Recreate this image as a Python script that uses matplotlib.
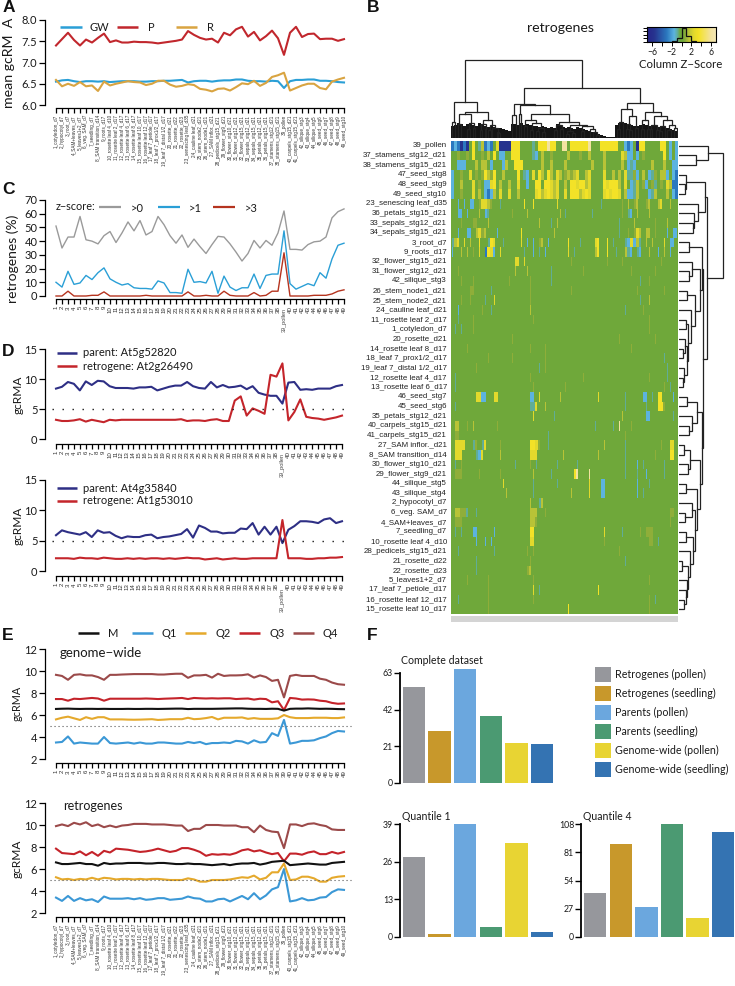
import numpy as np
import matplotlib
matplotlib.use("Agg")
import matplotlib.pyplot as plt
from matplotlib.colors import LinearSegmentedColormap
from matplotlib.patches import Rectangle

# ---------------- data ----------------
tissues = ["1_cotyledon_d7","2_hypocotyl_d7","3_root_d7","4_SAM+leaves_d7","5_leaves1+2_d7","6_veg. SAM_d7","7_seedling_d7",
"8_SAM transition_d14","9_roots_d17","10_rosette leaf 4_d10","11_rosette leaf 2_d17","12_rosette leaf 4_d17","13_rosette leaf 6_d17",
"14_rosette leaf 8_d17","15_rosette leaf 10_d17","16_rosette leaf 12_d17","17_leaf 7_petiole_d17","18_leaf 7_prox1/2_d17",
"19_leaf 7_distal 1/2_d17","20_rosette_d21","21_rosette_d22","22_rosette_d23","23_senescing leaf_d35","24_cauline leaf_d21",
"25_stem_node2_d21","26_stem_node1_d21","27_SAM inflor._d21","28_pedicels_stg15_d21","29_flower_stg9_d21","30_flower_stg10_d21",
"31_flower_stg12_d21","32_flower_stg15_d21","33_sepals_stg12_d21","34_sepals_stg15_d21","35_petals_stg12_d21","36_petals_stg15_d21",
"37_stamens_stg12_d21","38_stamens_stg15_d21","39_pollen","40_carpels_stg15_d21","41_carpels_stg15_d21","42_silique_stg3",
"43_silique_stg4","44_silique_stg5","45_seed_stg6","46_seed_stg7","47_seed_stg8","48_seed_stg9","49_seed_stg10"]

a_gw = [6.55,6.58,6.59,6.56,6.54,6.56,6.56,6.55,6.56,6.54,6.55,6.56,6.56,6.56,6.55,6.55,6.56,6.56,6.57,6.57,6.58,6.59,6.53,6.56,6.57,6.57,6.55,6.57,6.58,6.58,6.60,6.60,6.57,6.56,6.56,6.55,6.57,6.56,6.40,6.56,6.59,6.59,6.60,6.60,6.57,6.57,6.56,6.54,6.53]
a_p = [7.40,7.55,7.70,7.53,7.40,7.54,7.47,7.58,7.68,7.48,7.52,7.47,7.47,7.49,7.48,7.48,7.47,7.45,7.47,7.49,7.51,7.54,7.74,7.65,7.58,7.54,7.56,7.47,7.70,7.64,7.78,7.84,7.61,7.72,7.52,7.62,7.75,7.57,7.18,7.70,7.84,7.60,7.67,7.68,7.55,7.56,7.56,7.51,7.55]
a_r = [6.59,6.44,6.50,6.45,6.54,6.44,6.46,6.33,6.55,6.46,6.50,6.53,6.56,6.54,6.53,6.47,6.50,6.57,6.57,6.48,6.43,6.45,6.49,6.47,6.38,6.36,6.32,6.38,6.39,6.34,6.42,6.51,6.49,6.57,6.45,6.52,6.66,6.70,6.76,6.34,6.40,6.46,6.50,6.50,6.40,6.37,6.55,6.60,6.64]

c_gt0 = [51,35,43,43,58,41,40,38,44,47,39,46,54,47.5,55,44.5,47,58,52,44,38.5,44.5,35.5,41.5,36,31,37.5,43.5,43,38,32,25.5,31,40.5,35,40.5,37,46,62,34,34,33.5,37.5,39.5,40,43,57,61.5,63.5]
c_gt1 = [10,6.5,18,8.5,9.5,15,12,17,20.5,12.5,10,8,9,6,5.5,5.5,5,11,9.5,2.5,2.5,2,19.5,10,10.5,9.5,18,2,14.5,6.5,4,6,6,16,5.5,15,16,16,47.5,9,5,7,9,7.5,17,13,27,37,38.5]
c_gt3 = [0,0,3.5,0,0,0,0.5,0.5,3,0,0,0,0,0,0,0.5,0,0,0,0,0,0,3,0,0,0.5,0,0,3.5,0.5,0,0,0,2.5,0,0.5,3.5,3.5,31.5,0,0,0,0,0.5,0.5,0.5,1.5,3.5,4.5]

d1_parent = [8.4,8.7,9.5,9.2,8.1,9.6,9.0,9.7,9.6,8.8,8.5,8.5,8.5,8.4,8.6,8.6,8.7,8.1,8.4,8.7,8.9,8.9,9.5,8.8,8.5,8.4,9.5,8.6,9.0,8.6,8.7,8.9,8.3,8.8,7.7,7.4,7.2,7.2,5.9,9.4,9.5,8.2,8.3,8.2,8.4,8.4,8.4,8.8,9.0]
d1_retro = [3.2,3.0,3.0,3.1,3.3,2.9,3.2,3.0,2.8,3.2,3.1,3.2,3.2,3.2,3.2,3.2,3.2,3.2,3.2,3.2,3.2,3.3,3.0,3.1,3.1,3.0,3.2,3.3,3.0,3.0,6.4,7.1,3.9,5.1,4.7,4.2,10.7,10.4,12.6,3.1,4.5,6.6,3.7,3.5,3.4,3.2,3.4,3.6,3.9]
d2_parent = [5.9,6.7,6.4,6.2,6.0,6.4,5.6,6.7,6.3,6.4,5.8,5.4,5.7,5.6,5.6,5.9,6.0,5.4,5.6,5.7,5.9,6.1,6.9,5.5,7.5,7.1,6.5,6.5,6.2,6.3,6.3,7.0,6.9,7.9,6.0,7.3,6.0,7.3,4.6,6.8,7.4,8.2,8.2,8.1,7.9,8.5,8.7,7.9,8.2]
d2_retro = [2.1,2.1,2.1,2.0,2.2,2.1,2.1,2.0,2.2,2.1,2.0,2.0,2.1,2.0,2.1,2.0,2.1,2.1,2.0,2.1,2.0,2.1,2.2,2.1,2.1,1.9,2.0,2.1,1.9,2.0,2.1,2.0,2.0,2.1,2.1,2.1,2.1,2.1,8.4,2.1,2.1,2.1,2.0,2.0,2.1,2.1,2.2,2.2,2.3]

e1_m = [6.55,6.57,6.58,6.56,6.55,6.56,6.56,6.55,6.56,6.55,6.55,6.55,6.56,6.55,6.55,6.56,6.56,6.55,6.56,6.57,6.58,6.58,6.54,6.56,6.56,6.56,6.56,6.57,6.58,6.59,6.60,6.60,6.57,6.56,6.56,6.55,6.57,6.56,6.40,6.56,6.58,6.58,6.60,6.58,6.56,6.57,6.56,6.54,6.53]
e1_q1 = [3.5,3.55,4.05,3.4,3.5,3.45,3.4,3.4,4.0,3.45,3.4,3.45,3.5,3.4,3.5,3.4,3.4,3.5,3.5,3.45,3.4,3.4,3.55,3.45,3.55,3.35,3.45,3.45,3.5,3.45,3.65,3.6,3.4,3.7,3.5,3.55,4.35,4.1,5.55,3.4,3.5,3.65,3.65,3.7,3.9,4.05,4.35,4.55,4.5]
e1_q2 = [5.6,5.75,5.85,5.7,5.55,5.8,5.65,5.8,5.8,5.6,5.6,5.6,5.58,5.57,5.58,5.6,5.62,5.55,5.58,5.62,5.62,5.62,5.75,5.62,5.65,5.72,5.82,5.6,5.75,5.75,5.75,5.78,5.65,5.72,5.65,5.65,5.65,5.7,6.0,5.8,5.72,5.72,5.72,5.75,5.75,5.75,5.72,5.72,5.78]
e1_q3 = [7.45,7.45,7.3,7.48,7.45,7.5,7.55,7.5,7.3,7.48,7.48,7.48,7.48,7.48,7.48,7.5,7.48,7.45,7.48,7.5,7.52,7.55,7.45,7.55,7.52,7.5,7.52,7.5,7.52,7.52,7.45,7.48,7.5,7.4,7.48,7.45,7.15,7.25,6.45,7.55,7.5,7.4,7.42,7.4,7.3,7.25,7.1,7.02,7.05]
e1_q4 = [9.65,9.55,9.2,9.65,9.7,9.6,9.6,9.45,9.2,9.65,9.65,9.68,9.7,9.72,9.72,9.72,9.72,9.68,9.68,9.72,9.75,9.75,9.38,9.6,9.6,9.65,9.4,9.75,9.55,9.6,9.6,9.62,9.7,9.4,9.6,9.45,9.1,9.2,7.6,9.55,9.65,9.55,9.55,9.55,9.3,9.2,8.95,8.8,8.75]

e2_m = [6.6,6.45,6.45,6.5,6.55,6.45,6.45,6.3,6.55,6.45,6.5,6.5,6.55,6.55,6.55,6.5,6.5,6.55,6.55,6.5,6.45,6.45,6.5,6.45,6.45,6.4,6.35,6.4,6.45,6.35,6.45,6.5,6.5,6.55,6.4,6.5,6.65,6.7,6.75,6.35,6.4,6.45,6.5,6.45,6.4,6.4,6.55,6.6,6.65]
e2_q1 = [3.4,3.1,3.55,3.1,3.35,3.15,3.25,3.0,3.5,3.3,3.3,3.3,3.35,3.25,3.35,3.2,3.25,3.35,3.35,3.2,3.25,3.3,3.5,3.35,3.3,3.05,3.05,3.25,3.3,3.05,3.3,3.55,3.25,3.8,3.25,3.6,4.15,4.35,6.0,3.05,3.15,3.35,3.15,3.2,3.4,3.45,3.9,4.15,4.1]
e2_q2 = [5.25,5.05,5.1,5.0,5.1,5.05,5.2,5.05,5.2,5.15,5.05,5.1,5.1,5.05,5.1,5.05,5.1,5.1,5.05,5.0,5.0,5.0,5.15,5.05,4.85,4.85,5.0,5.0,5.0,5.05,5.15,5.25,5.2,5.4,5.05,5.2,5.7,5.7,6.5,5.0,5.05,5.3,5.3,5.15,4.85,4.85,5.2,5.3,5.35]
e2_q3 = [7.85,7.45,7.4,7.35,7.6,7.25,7.55,7.2,7.65,7.5,7.85,7.8,7.75,7.65,7.55,7.6,7.7,7.85,7.7,7.55,7.65,7.9,7.9,7.75,7.55,7.2,7.35,7.3,7.35,7.3,7.45,7.7,7.8,7.6,7.7,7.5,7.35,7.45,6.7,7.4,7.4,7.3,7.5,7.6,7.35,7.35,7.55,7.4,7.55]
e2_q4 = [9.9,10.05,9.9,10.2,10.05,10.25,9.9,10.05,9.8,9.95,9.8,9.95,10.0,10.1,10.1,10.1,10.05,10.05,10.05,10.0,9.95,9.95,9.45,9.65,9.65,10.0,10.0,10.0,9.95,9.95,9.95,9.8,9.8,9.35,9.95,9.55,9.4,9.35,7.9,10.05,10.05,9.9,10.1,10.15,10.0,9.9,9.6,9.55,9.55]

bar_labels = ["Retrogenes (pollen)","Retrogenes (seedling)","Parents (pollen)","Parents (seedling)","Genome-wide (pollen)","Genome-wide (seedling)"]
bars_all = [54.8,29.8,65.3,38.4,22.7,22.1]
bars_q1 = [27.5,1.1,39,3.6,32.6,1.7]
bars_q4 = [41.6,89,28.3,108,18.1,100.4]

# heatmap: row order (tissue number) and z-score classes per 3 px column group
row_order = [39,37,38,47,48,49,23,36,33,34,3,9,32,31,42,26,25,24,11,1,20,14,18,19,12,13,46,45,35,40,41,27,8,30,29,44,43,2,6,4,7,10,28,21,22,5,17,16,15]
z_class = {"g":0,"o":.8,"l":1.5,"y":2.5,"Y":3.5,"p":6,"t":-.8,"c":-1.5,"b":-3,"d":-5.5}
heat_rows = [
"bcbdbdgYgt lbcbgydddd YYYggggtgY YYpYYggppg YYYYYYpggg YYYYYYggcb cgdYYggggg YYgcgc",
"ggoggogYgg oglgYgccgg YYYggggtcg lggogggggl gggoggl ggg glgggggy lc cgcgoggggg gYgcgc",
"ggcccggglgl lgcgggclgg YYYgggggg lgglgggglg ggggggglgg glgggggl gc tcgggggl gg glggcc",
"cggoggygog oYloYgglgg ggYgtcgygY lgYlgylgol olyggly ggg gygglglgyt tocglgctog llcgcb",
"cgglgggygo gccyYglggl ggyggcggYY gYYylyggl g YYyYYlyggg gYyYYYlgyg ctlgocgotg ogylbb",
"cggogggygl gcbclgyggy gglgggggyY lyYylyggyg YYYlyYyggg gyYyYYyglc ctlgggctlg gglgcb",
{2:"c",4:"c",6:"c",7:"c",9:"o",10:"y",11:"y",12:"l",13:"o",16:"t",24:"Y",27:"Y",35:"y",50:"t",57:"o",59:"l",61:"o",62:"l",65:"o",66:"l",69:"l",70:"y",73:"l"},
{2:"c",3:"c",5:"c",9:"l",11:"c",12:"t",20:"o",25:"l",36:"l",38:"t",47:"t",57:"o",59:"t",60:"c",62:"l",66:"l"},
{3:"o",7:"o",8:"o",12:"l",29:"l",33:"t",35:"l",56:"t",61:"l",68:"o",72:"l"},
{2:"c",5:"c",6:"c",8:"l",9:"y",10:"o",11:"l",15:"c",23:"Y",34:"l",56:"t",59:"o",61:"o",62:"y",63:"l",65:"l",66:"l",68:"o",72:"c",74:"c",75:"c"},
{0:"t",1:"l",2:"y",4:"y",6:"l",9:"Y",12:"t",13:"Y",14:"y",17:"t",23:"y",25:"c",27:"c",29:"o",30:"l",32:"c",39:"Y",43:"t",48:"y",49:"Y",52:"Y",54:"t",58:"t",59:"c",60:"y",61:"c",62:"l",63:"t",65:"l",67:"l",71:"y",73:"c",74:"c"},
{0:"c",3:"l",5:"l",7:"o",9:"y",11:"b",12:"Y",13:"y",14:"c",16:"y",24:"t",27:"c",29:"t",31:"c",39:"y",41:"t",48:"l",49:"Y",52:"Y",55:"t",58:"l",59:"t",60:"c",62:"t",63:"c",66:"l",69:"c",71:"l",73:"c"},
{21:"y",22:"y",24:"y",40:"o",52:"o",57:"o",70:"o"},
{2:"o",21:"l",25:"l",33:"t",44:"o",60:"o",68:"o"},
{3:"o",7:"o",19:"o",26:"o",33:"t",63:"t",66:"o"},
{6:"o",7:"o",13:"t",26:"o",40:"o",62:"o",71:"o"},
{3:"o",6:"o",11:"t",14:"y",26:"o",63:"t",66:"l"},
{2:"c",10:"o",13:"t",26:"l",58:"t",64:"o"},
{2:"t",7:"o",27:"o",66:"o"},
{1:"t",3:"t",7:"o",66:"o"},
{20:"o",56:"o",68:"o"},
{26:"o",31:"o",60:"o",5:"o"},
{20:"o",31:"o",71:"t",12:"o"},
{29:"t",31:"o",72:"t",8:"o"},
{1:"t",26:"o",66:"o",72:"t",44:"o"},
{1:"t",27:"o",71:"o",73:"t",38:"o"},
{8:"y",9:"y",10:"c",11:"c",14:"y",15:"y",26:"c",27:"c",29:"y",36:"l",49:"y",58:"t",64:"c",65:"c",67:"t",69:"Y",70:"Y",74:"c"},
{1:"t",26:"t",27:"t",28:"y",31:"l",58:"t",65:"t",69:"Y",70:"Y",71:"o"},
{27:"y",34:"t",57:"l",65:"c",66:"c",74:"t"},
{1:"l",2:"l",5:"o",7:"l",15:"o",48:"t",54:"t",56:"p",60:"o"},
{1:"o",2:"o",32:"t",58:"o"},
{1:"y",2:"y",3:"y",4:"y",7:"t",8:"o",10:"t",11:"y",16:"o",26:"Y",27:"Y",28:"y",29:"o",32:"t",51:"l",58:"t",70:"o",73:"y",74:"y"},
{1:"y",2:"y",3:"y",8:"t",9:"c",10:"y",16:"l",26:"y",27:"y",28:"y",37:"l",49:"l",58:"t",68:"o",73:"Y",74:"Y"},
{1:"t",3:"o",21:"t",26:"o",28:"t",35:"t",42:"t",58:"t",62:"c",64:"t",71:"t"},
{1:"o",2:"o",3:"o",9:"o",16:"o",27:"l",33:"t",41:"Y",42:"p",46:"p",58:"t",62:"t",65:"c",71:"t"},
{17:"y",27:"t",35:"t",46:"y",50:"c",51:"c",62:"c",66:"t"},
{18:"l",27:"t",40:"l",46:"y",50:"c",51:"c",62:"c",64:"t"},
{26:"l",29:"t",30:"l"},
{1:"l",2:"l",3:"o",4:"o",5:"t",8:"t",26:"l",27:"l",28:"l",31:"o",73:"o",74:"o"},
{1:"o",2:"o",3:"o",26:"l",27:"l",28:"o",73:"o"},
{1:"t",3:"t",7:"c",8:"c",14:"c",26:"Y",27:"Y",51:"y",57:"t",63:"o",65:"o",66:"o",67:"o"},
{8:"c",11:"c",13:"c",26:"y",27:"y",51:"o",66:"o",67:"o",69:"t"},
{2:"t",14:"t",25:"o",27:"o",56:"o"},
{8:"t",26:"o",58:"t"},
{8:"t",25:"o",26:"l"},
{5:"o",12:"o",27:"o",66:"o"},
{12:"o",27:"y",29:"t",49:"Y"},
{2:"t",12:"o",27:"o",66:"o",68:"t"},
{12:"o",39:"Y",66:"o"},
]
n_col_groups = 76

# dendrograms as (height, left, right); an integer in the row tree is a row index
row_tree = (160,
  (115,0,(78,1,2)),
  (110,
    (105,(47,3,(45,4,5)),(85,6,(72,7,(68,8,9)))),
    (98,
      (97,(58,10,11),(90,(67,12,(58,13,14)),(75,(52,15,16),(63,17,(55,(47,18,19),(50,(45,20,(38,21,22)),(42,23,(40,24,25)))))))),
      (95,
        (80,(52,26,27),(65,28,(57,29,30))),
        (90,(60,(42,31,32),(55,33,34)),
          (80,(47,35,36),
            (75,(65,37,(45,38,39)),
              (68,(47,40,41),(60,42,(55,(37,43,44),(50,45,(47,46,(42,47,48)))))))))))))
col_tree = (78,
  (36,(16,0.3,1.4),
      (26,(24,(14,2.2,3.4),(15,(9,5.4,6.4),(10,7.2,8.2))),
          (18,(14,(8,9.8,10.4),(9,11,11.8)),(13,(8,12.3,13),(10,13.6,(6,15,(5,15.6,16.5)))))))
  ,
  (50,
    (34,(23,20.3,21.8),
        (33,(24,22.8,23.5),
            (24,(18,(12,24.5,25.3),(15,(8,26,27),(10,(7,28,29),(6,30,31)))),
                (16,(13,(8,34,35),(9,36,37)),
                    (13,(7,(4,38,39),(5,40,41)),(12,(7,43,44),(9,46,(6,47,(3,48,49.5)))))))))
    ,
    (35,(29,(16,(9,55.7,56.5),(8,57,57.5)),(22,(14,(9,58,59),(8,59.6,60)),(10,61,62))),
        (26,(18,(9,63.5,64.5),(9,65,66)),
            (22,(13,(9,66.6,67.4),(8,68,69)),(18,(12,(7,69.5,70.5),(8,71,71.8)),(13,(8,72.2,73),(10,74,75.5))))))))
col_band = [12,13,15,14,12,14,15,13,12,15,14,12,11,12,11,10,10,9,8,7,14,14,13,15,13,14,13,12,12,11,12,11,10,11,10,14,13,11,10,11,10,9,11,10,9,8,7,6,5,4,3,2,1,1,1,13,15,16,15,14,13,12,12,13,14,13,12,13,12,11,12,11,10,9,8,7]
key_hist = [0,0,0,0,.02,.05,.25,1,.45,.1,.03,0,0,0]

# ---------------- style ----------------
W, H = 735, 986
UI = "Lato"
AR = "Liberation Sans"
plt.rcParams["font.family"] = UI
fig = plt.figure(figsize=(W/100, H/100), dpi=100)

def pax(l, r, t, b):
    return fig.add_axes([l/W, 1-b/H, (r-l)/W, (b-t)/H])

ov = fig.add_axes([0,0,1,1], zorder=20)
ov.set_xlim(0,W); ov.set_ylim(H,0); ov.axis("off"); ov.patch.set_alpha(0)

def txt(x, y, s, size=8, ha="left", va="center", fam=UI, rot=0, color="#1a1a1a", weight="normal"):
    ov.text(x, y, s, fontsize=size, ha=ha, va=va, family=fam, rotation=rot, color=color, fontweight=weight)

def key(x0, x1, y, color, lw=1.6):
    ov.plot([x0,x1],[y,y],color=color,lw=lw,solid_capstyle="butt")

xs = np.arange(1,50)

def line_panel(l, r, t, b, ylim, yticks, yfmt, series, lw, labels="short", ysize=8, tick_off=3, left_off=11):
    ax = pax(l,r,t,b)
    ax.set_xlim(1,49); ax.set_ylim(*ylim)
    for y,c in series:
        ax.plot(xs,y,color=c,lw=lw,solid_joinstyle="round",clip_on=False)
    for s in ("top","right"): ax.spines[s].set_visible(False)
    ax.spines["left"].set_position(("outward",left_off*.72))
    ax.spines["left"].set_bounds(*ylim)
    ax.spines["left"].set_linewidth(.9)
    ax.spines["bottom"].set_position(("outward",tick_off*.72))
    ax.spines["bottom"].set_bounds(1,49)
    ax.spines["bottom"].set_linewidth(.9)
    ax.set_yticks(yticks)
    ax.set_yticklabels([yfmt % v for v in yticks],fontsize=ysize,color="#1a1a1a")
    ax.tick_params(axis="y",length=4,width=.9,pad=1.5)
    ax.set_xticks(xs)
    if labels=="long":
        ax.set_xticklabels(tissues,rotation=90,fontsize=3.35,family=AR,color="#333333",va="top",ha="center")
    else:
        names = [str(i) for i in xs]
        if labels=="pollen": names[38]=""
        ax.set_xticklabels(names,rotation=90,fontsize=4.4,family=AR,color="#333333",va="top",ha="center")
    ax.tick_params(axis="x",length=3.6,width=.9,pad=1.5)
    return ax

# ---- panel A
line_panel(56,344,20,105,(6,8),[6,6.5,7,7.5,8],"%.1f",[(a_gw,"#2a9fd6"),(a_p,"#c1272d"),(a_r,"#d9a441")],1.5,"long")
txt(9,63,"mean gcRM  A",10.2,ha="center",rot=90)
key(60,82,27,"#2a9fd6",1.8); txt(90,27.5,"GW",8)
key(117,138,27,"#c1272d",1.8); txt(148,27.5,"P",8)
key(176,197,27,"#d9a441",1.8); txt(207,27.5,"R",8)

# ---- panel C
line_panel(56,344,200,296,(0,70),list(range(0,71,10)),"%d",[(c_gt0,"#9a9a9a"),(c_gt1,"#2a9fd6"),(c_gt3,"#b5341f")],1.0,"pollen")
txt(13,259,"retrogenes (%)",10,ha="center",rot=90)
txt(56,207,"z\u2212score:",7.8)
key(99,121,207,"#9a9a9a"); txt(131,208,">0",8)
key(158,180,207,"#2a9fd6"); txt(189,208,">1",8)
key(213,235,207,"#b5341f"); txt(245,208,">3",8)
txt(284.5,320,"39_pollen",4,ha="center",fam=AR,rot=90,color="#444444")

# ---- panel D
def dotted_h(ax, y):
    ax.plot([0.4,50.2],[y,y],color="#1a1a1a",lw=1.0,ls=(0,(1,6.2)),clip_on=False)
ax = line_panel(56,342,349,439,(0,15),[0,5,10,15],"%d",[(d1_parent,"#2e2f85"),(d1_retro,"#c4252b")],1.5,"pollen",tick_off=5)
dotted_h(ax,5)
ax = line_panel(56,342,480,571,(0,15),[0,5,10,15],"%d",[(d2_parent,"#2e2f85"),(d2_retro,"#c4252b")],1.5,"pollen",tick_off=5)
dotted_h(ax,5)
txt(18,395,"gcRMA",8.6,ha="center",rot=90)
txt(18,526,"gcRMA",8.6,ha="center",rot=90)
key(57,77,352.5,"#2e2f85",1.8); txt(83,353,"parent: At5g52820",8)
key(57,77,366,"#c4252b",1.8); txt(83,366,"retrogene: At2g26490",8)
key(57,77,488,"#2e2f85",1.8); txt(83,488,"parent: At4g35840",8)
key(57,77,501,"#c4252b",1.8); txt(83,501,"retrogene: At1g53010",8)
txt(282,465,"39_pollen",4,ha="center",fam=AR,rot=90,color="#444444")
txt(282,600,"39_pollen",4,ha="center",fam=AR,rot=90,color="#444444")

# ---- panel E
E_COL = ["#111111","#3b98d6","#e5a92c","#c4232a","#9b4a4a"]
def dotted_e(ax):
    ax.plot([0,50.2],[5,5],color="#555555",lw=.8,ls=(0,(1,2.6)),clip_on=False)
ax = line_panel(56,344,649,759,(2,12),[2,4,6,8,10,12],"%d",[(v,c) for v,c in zip([e1_q1,e1_q2,e1_q3,e1_q4,e1_m],E_COL[1:]+E_COL[:1])],1.5,"short",tick_off=4)
dotted_e(ax)
ax = line_panel(56,344,803,913,(2,12),[2,4,6,8,10,12],"%d",[(v,c) for v,c in zip([e2_q1,e2_q2,e2_q3,e2_q4,e2_m],E_COL[1:]+E_COL[:1])],1.5,"long",tick_off=4)
dotted_e(ax)
txt(17,703,"gcRMA",7.8,ha="center",rot=90)
txt(17,859,"gcRMA",8.6,ha="center",rot=90)
for name,col,x0,tx in zip(["M","Q1","Q2","Q3","Q4"],E_COL,[78,132,185,239,293],[108,162,216,270,323]):
    key(x0,x0+21,633,col,1.8); txt(tx,633.5,name,8)
txt(60,653,"genome\u2212wide",9.5)
txt(63,806,"retrogenes",9)

# ---- panel B
SUB = 3
z_rows = []
for row in heat_rows:
    cells = np.zeros(n_col_groups*SUB)
    if isinstance(row,str):
        chars = row.replace(" ","").ljust(n_col_groups,"g")[:n_col_groups]
        cells = np.repeat([z_class[ch] for ch in chars],SUB)
    else:
        # sparse rows: narrow stripes, joined where neighbouring groups are also marked
        for i,ch in row.items():
            v = z_class[ch]
            cells[i*SUB+1] = v
            if i+1 in row: cells[i*SUB+2] = v
            if i-1 in row: cells[i*SUB] = v
    z_rows.append(cells)
z_mat = np.array(z_rows,dtype=float)
stops = [(-7,"#26248a"),(-5.5,"#27348f"),(-3,"#2b78bf"),(-1.5,"#5cb4e0"),(-.8,"#62ad96"),(-.3,"#6fa83a"),(.3,"#6fa83a"),(.8,"#8fae3a"),(1.5,"#b9c437"),(2.5,"#e2d92d"),(3.5,"#f4e226"),(6,"#f3e3a0"),(7,"#f5e8b5")]
cmap = LinearSegmentedColormap.from_list("rg",[((v+7)/14,c) for v,c in stops],N=512)
hm = pax(451,678,141,614)
hm.imshow(z_mat,aspect="auto",cmap=cmap,vmin=-7,vmax=7,extent=(0,n_col_groups,len(z_rows),0),interpolation="nearest")
hm.axis("off")
for i,n in enumerate(row_order):
    txt(447,141+(473/49)*(i+.5),tissues[n-1],5.7,ha="right",fam=AR,color="#222222")
ov.add_patch(Rectangle((451,616),227,6,fc="#d4d4d4",ec="none"))

def draw_tree(ax, node, vertical, leaf_base=0):
    if not isinstance(node,tuple):
        pos = node + .5 if isinstance(node,int) else node
        return pos, leaf_base
    h,a,b = node
    pa,ha = draw_tree(ax,a,vertical,leaf_base)
    pb,hb = draw_tree(ax,b,vertical,leaf_base)
    if vertical:
        ax.plot([pa,pa,pb,pb],[ha,h,h,hb],color="#222222",lw=.9,solid_joinstyle="miter")
    else:
        ax.plot([ha,h,h,hb],[pa,pa,pb,pb],color="#222222",lw=.9,solid_joinstyle="miter")
    return (pa+pb)/2,h

cd = pax(451,678,59,138)
cd.set_xlim(0,n_col_groups); cd.set_ylim(0,79)
draw_tree(cd,col_tree,True)
cd.fill_between(np.arange(len(col_band)+1),0,list(col_band)+[col_band[-1]],step="post",color="#151515",lw=0)
cd.axis("off")
rd = pax(679,735,141,614)
rd.set_ylim(49,0); rd.set_xlim(27,195)
draw_tree(rd,row_tree,False,leaf_base=27)
rd.axis("off")
txt(560,28,"retrogenes",10.2,ha="center")

# colour key
ck = pax(647,716,27,42)
ck.imshow(np.linspace(-7,7,256).reshape(1,-1),aspect="auto",cmap=cmap,vmin=-7,vmax=7,extent=(-7,7,0,1.05))
ck.stairs(key_hist,np.arange(-7,8),color="#111111",lw=.9)
ck.set_xlim(-7,7); ck.set_ylim(0,1.05)
ck.set_xticks([-6,-4,-2,0,2,4,6])
ck.set_xticklabels(["\u22126","","\u22122","","2","","6"],fontsize=6.2,color="#1a1a1a")
ck.set_yticks([0,.25,.5,.75,1.0]); ck.set_yticklabels([])
ck.tick_params(length=3,width=.7,pad=1.5)
for s in ck.spines.values(): s.set_linewidth(.8)
txt(681,64,"Column Z\u2212Score",8.2,ha="center")

# ---- panel F
BAR_COL = ["#96979c","#c8982b","#6ba7de","#4b9a72","#e8d433","#3473b2"]
def bar_panel(l, first_center, t, b, vals, top, ticks):
    step = 25.6
    r = first_center + 5.5*step
    ax = pax(l,r,t,b)
    ax.bar(np.arange(6),vals,width=.87,color=BAR_COL,clip_on=False)
    ax.set_xlim((l-first_center)/step,5.5); ax.set_ylim(0,top)
    for s in ("top","right","bottom"): ax.spines[s].set_visible(False)
    ax.spines["left"].set_linewidth(1.3)
    ax.set_xticks([])
    ax.set_yticks(ticks); ax.set_yticklabels([str(v) for v in ticks],fontsize=6.3,color="#1a1a1a")
    ax.tick_params(axis="y",length=4,width=1,pad=1)
bar_panel(400,414,673,783,bars_all,63,[0,21,42,63])
bar_panel(400,414,824,937,bars_q1,39,[0,13,26,39])
bar_panel(581,595.2,824,937,bars_q4,108,[0,27,54,81,108])
txt(401,661,"Complete dataset",7.6)
txt(402,816,"Quantile 1",7.6)
txt(583,816,"Quantile 4",7.6)
for i,(lab,c) in enumerate(zip(bar_labels,BAR_COL)):
    y = 667+19*i
    ov.add_patch(Rectangle((595,y),16,15,fc=c,ec="none"))
    txt(615,y+7.5,lab,7.7)

# ---- panel letters
for s,x,y in [("A",3,8),("B",367,7),("C",2,190),("D",2,352),("E",2,636),("F",367,635)]:
    txt(x,y,s,12.5,fam=AR,weight="bold",color="#111111")

fig.savefig("out.png",dpi=100)
